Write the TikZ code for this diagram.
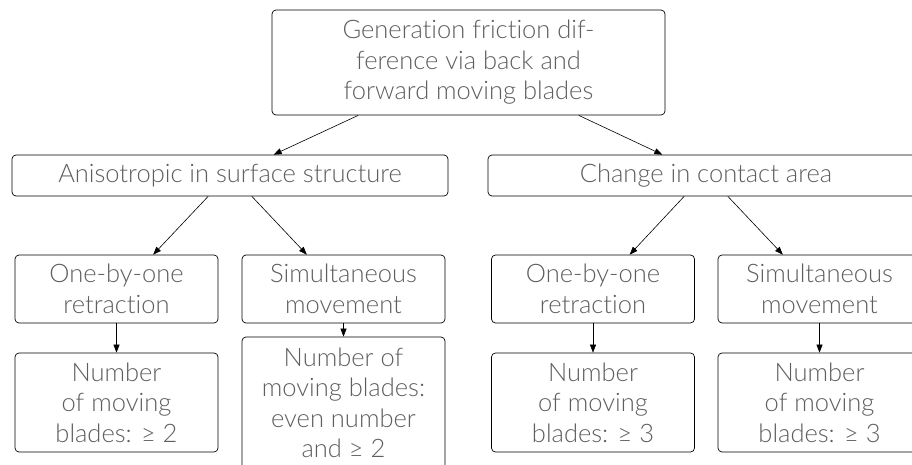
\documentclass[tikz,border=0pt]{standalone}
\usepackage{fontspec}
\setmainfont{Lato Light}[Ligatures=NoCommon]
\usepackage{tikz}
\usetikzlibrary{arrows.meta,calc}
\definecolor{ink}{HTML}{5E5E5E}
\tikzset{
  box/.style={rectangle, rounded corners=4pt, draw=black, line width=0.7pt, text=ink,
              align=center, inner sep=0pt, font=\fontsize{25.5}{30.5}\selectfont},
  leaf/.style={box, minimum width=203pt, minimum height=68pt},
  flow/.style={-{Triangle[length=8pt,width=6pt]}, draw=black, line width=0.6pt}
}

\begin{document}
\begin{tikzpicture}[x=1pt,y=-1pt]
  \useasboundingbox (0,0) rectangle (912,465);
  \def\Ra{289}\def\Rb{402.5}

  \node[box, minimum width=393pt, minimum height=105pt] (gen) at (468.5,62.5)
    {Generation friction dif-\\ference via back and\\forward moving blades};

  \node[box, minimum width=436pt, minimum height=41pt] (aniso) at (230,175.5) {Anisotropic in surface structure};
  \node[box, minimum width=436pt, minimum height=41pt] (area) at (706,175.5) {Change in contact area};

  \node[leaf] (aone) at (116.5,\Ra) {One-by-one\\retraction};
  \node[leaf] (asim) at (343.5,\Ra) {Simultaneous\\movement};
  \node[leaf] (cone) at (593,\Ra) {One-by-one\\retraction};
  \node[leaf] (csim) at (819.5,\Ra) {Simultaneous\\movement};

  \node[leaf, minimum height=99pt] (anum) at (116.5,\Rb) {Number\\of moving\\blades: ≥ 2};
  \node[leaf, minimum height=132pt] (aeven) at (343.5,403) {Number of\\moving blades:\\even number\\and ≥ 2};
  \node[leaf, minimum height=99pt] (cnum) at (593,\Rb) {Number\\of moving\\blades: ≥ 3};
  \node[leaf, minimum height=99pt] (cnumb) at (819.5,\Rb) {Number\\of moving\\blades: ≥ 3};

  % connectors
  \draw[flow] ($(gen.south west)!0.22!(gen.south east)$) -- ($(aniso.north west)!0.6!(aniso.north east)$);
  \draw[flow] ($(gen.south west)!0.78!(gen.south east)$) -- ($(area.north west)!0.4!(area.north east)$);
  \draw[flow] ($(aniso.south west)!0.45!(aniso.south east)$) -- ($(aone.north west)!0.68!(aone.north east)$);
  \draw[flow] ($(aniso.south west)!0.55!(aniso.south east)$) -- ($(asim.north west)!0.32!(asim.north east)$);
  \draw[flow] ($(area.south west)!0.45!(area.south east)$) -- ($(cone.north west)!0.68!(cone.north east)$);
  \draw[flow] ($(area.south west)!0.55!(area.south east)$) -- ($(csim.north west)!0.32!(csim.north east)$);
  \draw[flow] (aone) -- (anum);
  \draw[flow] (asim) -- (aeven);
  \draw[flow] (cone) -- (cnum);
  \draw[flow] (csim) -- (cnumb);
\end{tikzpicture}
\end{document}
